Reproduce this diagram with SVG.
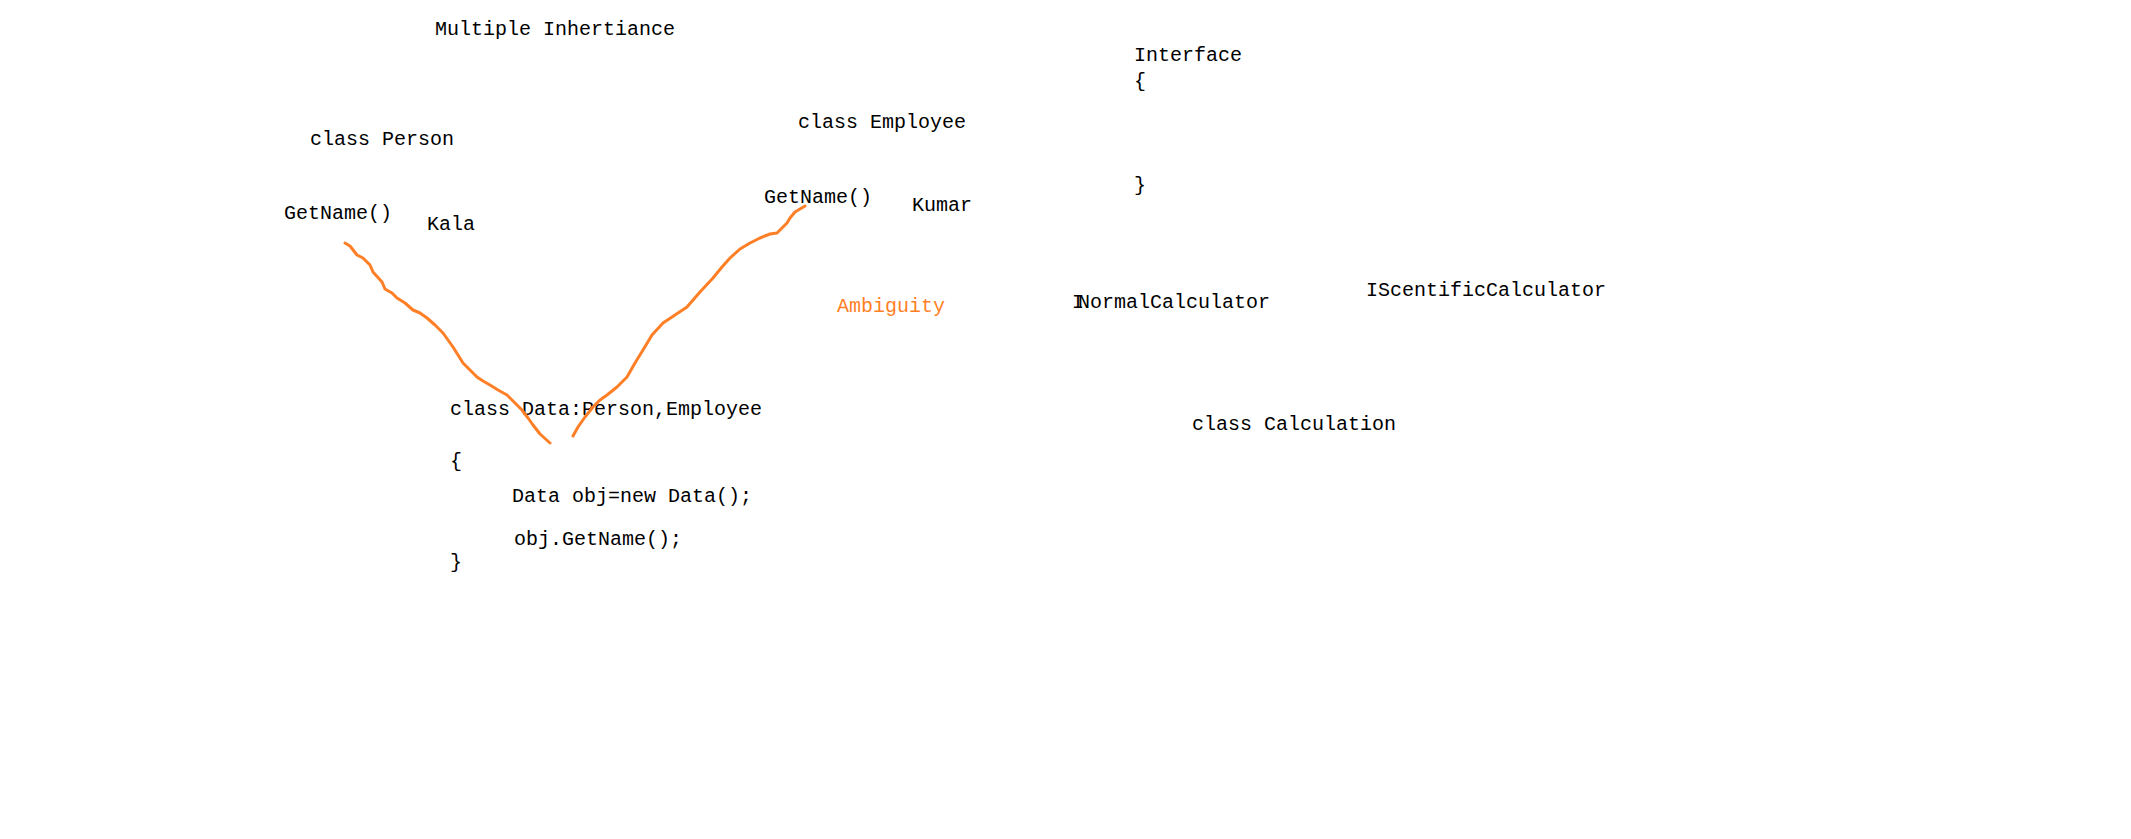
<svg xmlns="http://www.w3.org/2000/svg" width="2131" height="839" viewBox="0 0 2131 839">
<style>
  text { font-family: "Liberation Mono", "DejaVu Sans Mono", monospace; font-size: 20px; fill: #000; }
  text.orange { fill: #FF7F27; }
  .stroke { fill: none; stroke: #FF7F27; stroke-width: 3; stroke-linecap: round; stroke-linejoin: round; }
</style>
<rect width="2131" height="839" fill="#fff"/>
<g id="title"><text x="435" y="35">Multiple Inhertiance</text></g>
<g id="person">
  <text x="310" y="145">class Person</text>
  <text x="284" y="219">GetName()</text>
  <text x="427" y="230">Kala</text>
</g>
<g id="employee">
  <text x="798" y="128">class Employee</text>
  <text x="764" y="203">GetName()</text>
  <text x="912" y="211">Kumar</text>
</g>
<g id="ambiguity"><text class="orange" x="837" y="312">Ambiguity</text></g>
<g id="data">
  <text x="450" y="415">class Data:Person,Employee</text>
  <text x="450" y="467">{</text>
  <text x="512" y="502">Data obj=new Data();</text>
  <text x="514" y="545">obj.GetName();</text>
  <text x="450" y="568">}</text>
</g>
<g id="interface">
  <text x="1134" y="61">Interface</text>
  <text x="1134" y="87">{</text>
  <text x="1134" y="191">}</text>
</g>
<g id="normal-calculator">
  <text x="1072" y="308">I<tspan dx="-6">NormalCalculator</tspan></text>
</g>
<g id="scientific-calculator"><text x="1366" y="296">IScentificCalculator</text></g>
<g id="calculation"><text x="1192" y="430">class Calculation</text></g>
<g id="connectors">
  <path class="stroke" d="M345,243 L350,246 L357,255 L363,258 L370,265 L373,272 L382,282 L385,289 L392,293 L397,298 L405,303 L413,310 L420,313 L427,318 L435,325 L443,333 L448,340 L453,347 L458,355 L463,363 L470,370 L477,377 L483,381 L490,385 L498,390 L507,395 L515,403 L522,410 L528,418 L533,425 L540,434 L550,443"/>
  <path class="stroke" d="M805,206 L795,212 L790,218 L787,223 L777,233 L770,234 L760,238 L750,243 L740,249 L730,258 L722,267 L713,278 L700,292 L687,307 L675,315 L663,323 L652,335 L643,350 L635,363 L627,377 L617,387 L607,395 L600,400 L593,407 L585,417 L578,427 L573,436"/>
</g>
</svg>
